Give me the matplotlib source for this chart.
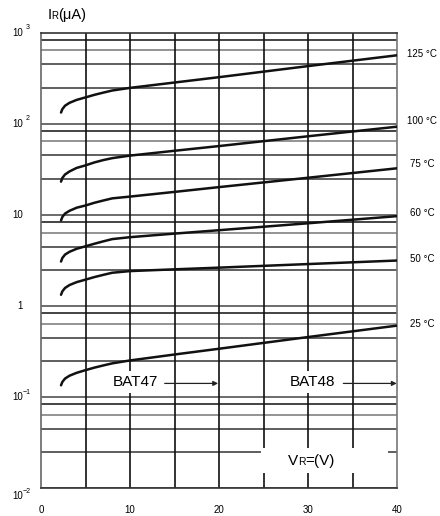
import matplotlib
matplotlib.use("Agg")
import matplotlib.pyplot as plt
from matplotlib import transforms
from matplotlib.patches import Rectangle

plt.rcParams['font.family'] = ['Liberation Sans', 'DejaVu Sans']

# reverse voltage (V)
vr = [2.25, 2.4, 2.7, 3.2, 4, 5, 6, 7, 8, 10, 15, 20, 30, 40]

# reverse current (uA) per temperature
ir_125 = [133, 145, 158, 170, 183, 195, 208, 220, 232, 248, 284, 325, 430, 565]
ir_100 = [23.2, 25.5, 27.8, 30.0, 32.8, 35.0, 37.7, 40.0, 42.0, 44.8, 50.6, 57.0, 73.0, 93.0]
ir_75 = [8.7, 9.5, 10.35, 11.1, 12.0, 12.7, 13.6, 14.4, 15.2, 15.9, 17.9, 20.2, 25.6, 32.5]
ir_60 = [3.08, 3.37, 3.67, 3.94, 4.25, 4.53, 4.83, 5.13, 5.43, 5.7, 6.24, 6.8, 8.1, 9.7]
ir_50 = [1.33, 1.45, 1.58, 1.70, 1.83, 1.95, 2.08, 2.20, 2.32, 2.42, 2.53, 2.64, 2.89, 3.16]
ir_25 = [0.135, 0.147, 0.160, 0.172, 0.185, 0.198, 0.211, 0.223, 0.235, 0.253, 0.294, 0.340, 0.457, 0.61]

temp_labels = ['125 °C', '100 °C', '75 °C', '60 °C', '50 °C', '25 °C']

x_ticks = [0, 10, 20, 30, 40]
x_grid = [5, 10, 15, 20, 25, 30, 35]
decades = [0.01, 0.1, 1, 10, 100, 1000]
decade_exp = ['-2', '-1', '', '', '2', '3']
minor_mult = [2.5, 4.5, 6.4, 8.4]

fig = plt.figure(figsize=(4.4, 5.16), dpi=100)
ax = fig.add_axes([41 / 440, 1 - 488.3 / 516, 356 / 440, 455.6 / 516])
ax.set_yscale('log')
ax.set_xlim(0, 40)
ax.set_ylim(0.01, 1000)

# grid
for d in decades[:-1]:
    ax.axhline(d, color='#444', lw=1.1, zorder=1)
    for m, c in zip(minor_mult, ['#333', '#333', '#777', '#111']):
        ax.axhline(d * m, color=c, lw=1.1, zorder=1)
for g in x_grid:
    ax.axvline(g, color='#111', lw=1.2, zorder=1)

for s in ax.spines.values():
    s.set_color('#333')
    s.set_linewidth(1.2)
ax.spines['left'].set_color('#666')
ax.spines['right'].set_color('#777')

# curves
series = [ir_125, ir_100, ir_75, ir_60, ir_50, ir_25]
for ys in series:
    ax.plot(vr, ys, color='#111', lw=1.8, solid_capstyle='round', zorder=3)

# temperature labels to the right
label_y = [579, 108, 36.2, 10.6, 3.28, 0.63]
for t, yv in zip(temp_labels, label_y):
    ax.text(42.8, yv, t, fontsize=7, ha='center', va='center', clip_on=False)

# x tick labels
ax.set_xticks(x_ticks)
ax.set_xticklabels([str(v) for v in x_ticks], fontsize=7)
ax.tick_params(axis='x', length=0, pad=12)
ax.set_yticks([])
ax.minorticks_off()
ax.set_yticks([], minor=True)

# y tick labels
tr = transforms.blended_transform_factory(fig.transFigure, ax.transData)
for d, e in zip(decades, decade_exp):
    off = transforms.offset_copy(tr, fig=fig, y=-5.5 if d == 0.01 else 0, units='points')
    if d == 1:
        ax.text(19.7 / 440, d, '1', fontsize=7, ha='center', va='center', transform=off)
        continue
    ax.text(12 / 440, d, '10', fontsize=7, ha='left', va='center', transform=off)
    if e:
        off2 = transforms.offset_copy(off, fig=fig, y=3.5, units='points')
        ax.text((26 if e == '3' or e == '2' else 22.5) / 440, d, e.replace('-', '\u2212'),
                fontsize=5, ha='left', va='center', transform=off2)

# BAT47 / BAT48 labels with arrows
for xt, x0, x1, name in [(10.56, 13.9, 19.9, 'BAT47'), (30.56, 33.97, 39.97, 'BAT48')]:
    ax.text(xt, 0.148, name, fontsize=11, ha='center', va='center', zorder=5,
            bbox=dict(facecolor='white', edgecolor='none', pad=3))
    ax.annotate('', xy=(x1, 0.1416), xytext=(x0, 0.1416), zorder=5,
                arrowprops=dict(arrowstyle='-|>', color='#222', lw=0.9,
                                mutation_scale=7, shrinkA=0, shrinkB=0))

# VR=(V) box
ax.add_patch(Rectangle((0.618, 0.0336), 0.357, 0.055, transform=ax.transAxes,
                       facecolor='white', edgecolor='none', zorder=4))
ax.text(0.694, 0.0511, 'V', fontsize=11, transform=ax.transAxes, va='baseline', zorder=5)
ax.text(0.722, 0.0511, 'R', fontsize=7.5, transform=ax.transAxes, va='baseline', zorder=5)
ax.text(0.743, 0.0511, '=(V)', fontsize=11, transform=ax.transAxes, va='baseline', zorder=5)

# title
fig.text(48 / 440, 1 - 19 / 516, 'I', fontsize=10.5, va='baseline')
fig.text(51.5 / 440, 1 - 19 / 516, 'R', fontsize=7, va='baseline')
fig.text(58 / 440, 1 - 19 / 516, '(μA)', fontsize=10.5, va='baseline')

fig.savefig('out.png', dpi=100)
